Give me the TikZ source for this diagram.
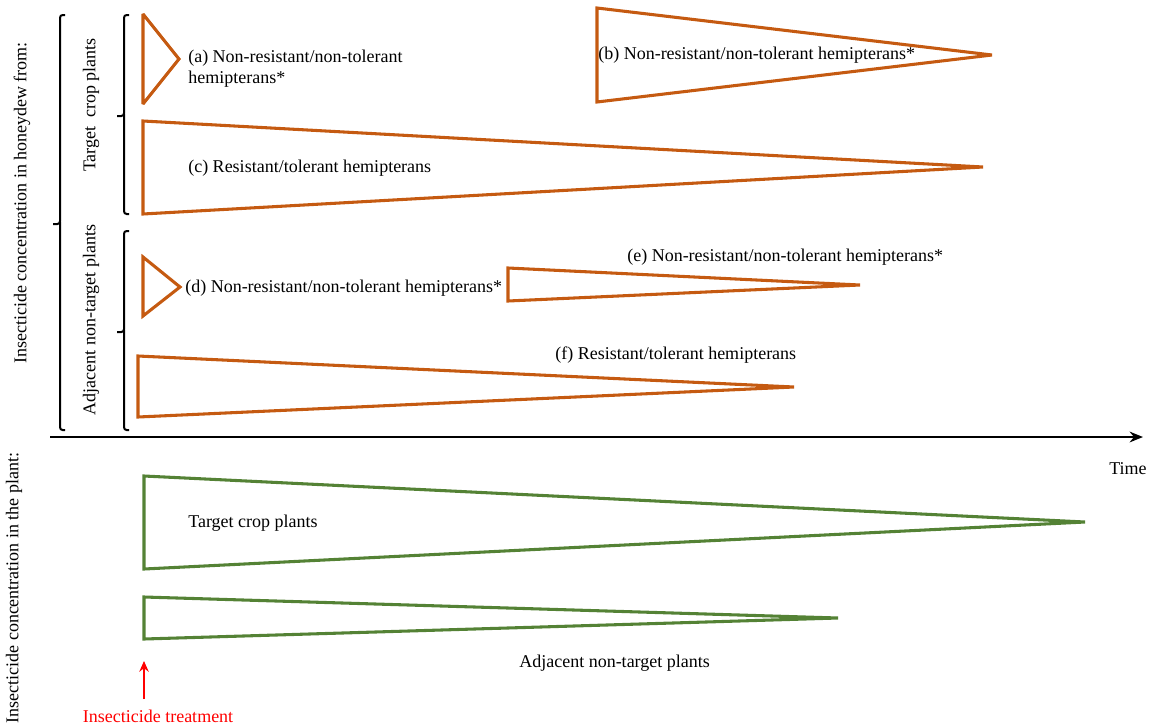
\documentclass[tikz,border=0pt]{standalone}
\usepackage{fontspec}
\setmainfont{Liberation Serif}
\usetikzlibrary{arrows.meta}
\definecolor{hon}{HTML}{C55A11}
\definecolor{pla}{HTML}{548235}
\begin{document}
\begin{tikzpicture}[x=0.75pt,y=-0.75pt,
  lbl/.style={font=\fontsize{13.5}{15.8}\selectfont,inner sep=0pt,anchor=west},
  vlbl/.style={font=\fontsize{13.5}{15.8}\selectfont,inner sep=0pt,rotate=90},
  htri/.style={draw=hon,line width=2.3pt,line join=miter,miter limit=3},
  ptri/.style={draw=pla,line width=2.3pt,line join=miter,miter limit=3},
  brc/.style={line width=1.5pt,rounded corners=2pt},
  axis/.style={line width=2.2pt,-{Stealth[length=10pt,width=8pt]}}]
\useasboundingbox (0,0) rectangle (1152,725);
% honeydew triangles
\draw[htri] (143,14) -- (179,59) -- (143,104) -- cycle;
\draw[htri] (597,8) -- (992,55) -- (597,102) -- cycle;
\draw[htri] (143,121) -- (983,167) -- (143,214) -- cycle;
\draw[htri] (143,257) -- (180,287) -- (143,316) -- cycle;
\draw[htri] (508,268) -- (860,285) -- (508,301) -- cycle;
\draw[htri] (138,356) -- (794,387) -- (138,417) -- cycle;
% plant triangles
\draw[ptri] (144,476) -- (1085,522) -- (144,569) -- cycle;
\draw[ptri] (144,597) -- (838,618) -- (144,639) -- cycle;
% labels
\node[lbl,align=left] (a) at (188,68.5) {(a) Non-resistant/non-tolerant\\hemipterans*};
\node[lbl] (b) at (598,55) {(b) Non-resistant/non-tolerant hemipterans*};
\node[lbl] (c) at (188,168) {(c) Resistant/tolerant hemipterans};
\node[lbl] (d) at (185,288) {(d) Non-resistant/non-tolerant hemipterans*};
\node[lbl] (e) at (627,257) {(e) Non-resistant/non-tolerant hemipterans*};
\node[lbl] (f) at (555,355) {(f) Resistant/tolerant hemipterans};
\node[lbl] (tc) at (188,523) {Target crop plants};
\node[lbl] (an) at (519,663) {Adjacent non-target plants};
\node[lbl] (time) at (1109,469) {Time};
% vertical labels
\node[vlbl] (vh) at (22,203) {Insecticide concentration in honeydew from:};
\node[vlbl] (vp) at (14,588) {Insecticide concentration in the plant:};
\node[vlbl] (vt) at (91,105) {Target\ \ crop plants};
\node[vlbl] (va) at (91,320) {Adjacent non-target plants};
% braces
\draw[brc] (65,15) -- (60,15) -- (60,224) -- (53,224);
\draw[brc] (60,222) -- (60,430) -- (65,430);
\draw[brc] (129,15) -- (124,15) -- (124,116) -- (117,116);
\draw[brc] (124,114) -- (124,214) -- (129,214);
\draw[brc] (129,231) -- (124,231) -- (124,332) -- (117,332);
\draw[brc] (124,330) -- (124,430) -- (129,430);
% time axis
\coordinate (ax0) at (50,437); \coordinate (ax1) at (1143,437);
\draw[axis] (ax0) -- (ax1);
% insecticide treatment
\node[font=\fontsize{13.5}{15.8}\selectfont,text=red,inner sep=0pt] (it) at (158,716) {Insecticide treatment};
\coordinate (ar0) at (144,699); \coordinate (ar1) at (144,661);
\draw[red,line width=2.2pt,-{Stealth[length=8pt,width=7pt]}] (ar0) -- (ar1);
\end{tikzpicture}
\end{document}
